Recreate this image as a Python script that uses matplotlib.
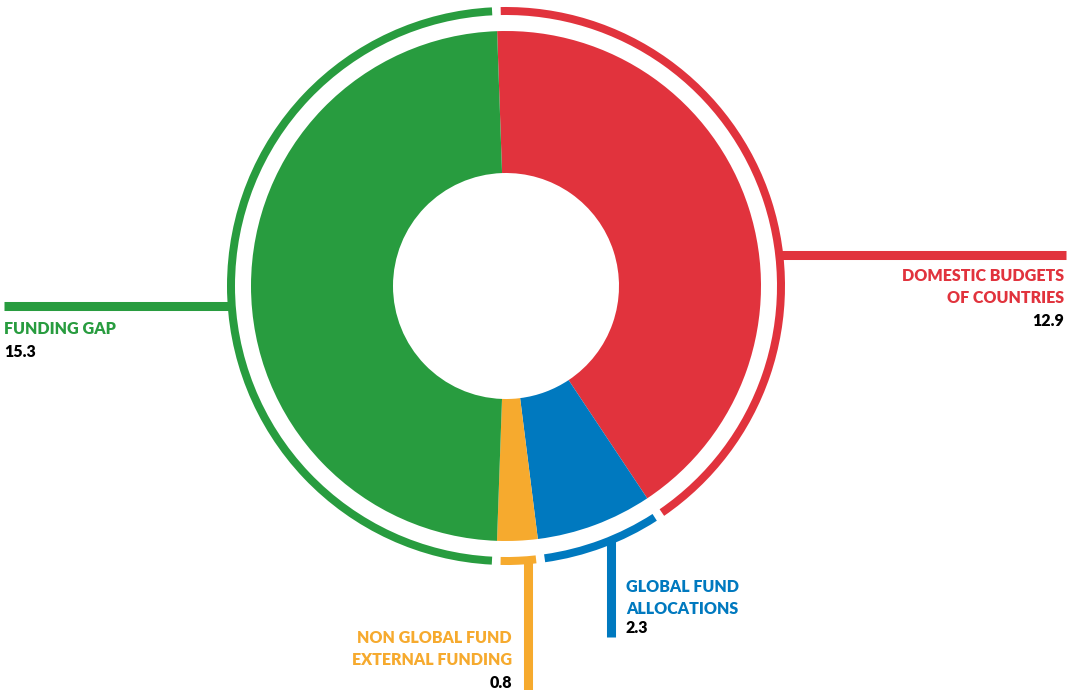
import numpy as np
import matplotlib
matplotlib.use("Agg")
import matplotlib.pyplot as plt
from matplotlib.patches import Wedge

# data
labels = ["DOMESTIC BUDGETS\nOF COUNTRIES", "GLOBAL FUND\nALLOCATIONS",
          "NON GLOBAL FUND\nEXTERNAL FUNDING", "FUNDING GAP"]
values = [12.9, 2.3, 0.8, 15.3]
colors = ["#E1333D", "#0079BF", "#F6AA2E", "#289C3F"]

W, H = 1070, 690
cx, cy = 506, H - 286
R, HOLE = 255, 113
RING_R, RING_W = 279, 8
START = 92
GAP = 1.8

fig = plt.figure(figsize=(W / 100, H / 100), dpi=100)
ax = fig.add_axes([0, 0, 1, 1])

ax.pie(values, colors=colors, startangle=START, counterclock=False,
       radius=R, center=(cx, cy), wedgeprops=dict(width=R - HOLE, linewidth=0))

# outer ring arcs
total = sum(values)
cum = np.concatenate([[0], np.cumsum(values)]) / total * 360
for i, c in enumerate(colors):
    t_hi = START - cum[i] - GAP / 2
    t_lo = START - cum[i + 1] + GAP / 2
    ax.add_patch(Wedge((cx, cy), RING_R, t_lo, t_hi, width=RING_W, color=c, lw=0))

rm = RING_R - RING_W / 2


def Y(y):
    return H - y


lw = 6.5
# leader lines
yr = 254.5
ax.plot([cx + np.sqrt(rm**2 - (286 - yr)**2), 1066], [Y(yr), Y(yr)], color=colors[0], lw=lw, solid_capstyle="butt")
yg = 306
ax.plot([4, cx - np.sqrt(rm**2 - (yg - 286)**2)], [Y(yg), Y(yg)], color=colors[3], lw=lw, solid_capstyle="butt")
xo = 528
ax.plot([xo, xo], [Y(286 + np.sqrt(rm**2 - (xo - cx)**2)), Y(690)], color=colors[2], lw=lw, solid_capstyle="butt")
xb = 611
ax.plot([xb, xb], [Y(286 + np.sqrt(rm**2 - (xb - cx)**2)), Y(637)], color=colors[1], lw=lw, solid_capstyle="butt")

font = dict(family=["Lato", "DejaVu Sans"], fontweight="heavy", fontsize=11.5)
ls = 1.45

ax.text(1064, Y(268), labels[0], color=colors[0], ha="right", va="top", linespacing=ls, **font)
ax.text(1064, Y(313), f"{values[0]}", color="black", ha="right", va="top", **font)

ax.text(4, Y(321), labels[3], color=colors[3], ha="left", va="top", linespacing=ls, **font)
ax.text(4, Y(344), f"{values[3]}", color="black", ha="left", va="top", **font)

ax.text(626, Y(579), labels[1], color=colors[1], ha="left", va="top", linespacing=ls, **font)
ax.text(626, Y(620), f"{values[1]}", color="black", ha="left", va="top", **font)

ax.text(512, Y(630), labels[2], color=colors[2], ha="right", va="top", linespacing=ls, **font)
ax.text(512, Y(675), f"{values[2]}", color="black", ha="right", va="top", **font)

ax.set_xlim(0, W)
ax.set_ylim(0, H)
ax.set_aspect("equal")
ax.axis("off")

fig.savefig("out.png", dpi=100, facecolor="white")
